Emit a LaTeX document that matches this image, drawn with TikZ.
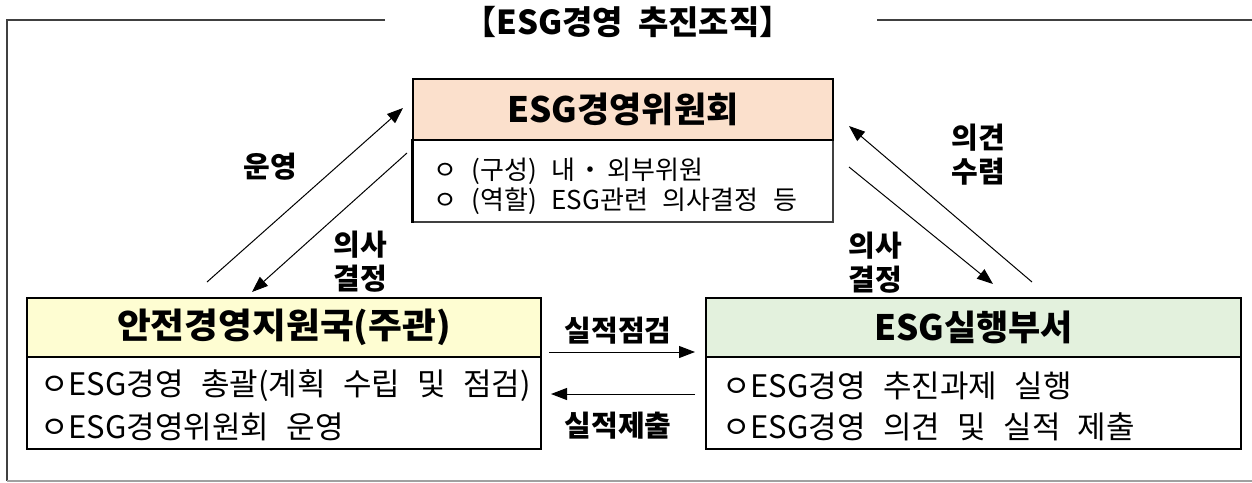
\documentclass[tikz,border=0pt]{standalone}
\usepackage{fontspec}
\setmainfont{Noto Sans CJK KR}
\newfontfamily\krw[WordSpace={3}]{Noto Sans CJK KR}
\newfontfamily\krv[WordSpace={2.5}]{Noto Sans CJK KR}
\usetikzlibrary{arrows.meta}
\definecolor{peach}{HTML}{FBE0CC}
\definecolor{lyellow}{HTML}{FEFDD2}
\definecolor{lgreen}{HTML}{E3F1DD}
\definecolor{framegray}{HTML}{404040}
\definecolor{botgray}{HTML}{A0A0A0}
\begin{document}
\begin{tikzpicture}[x=1pt,y=-1pt,
  hdrbox/.style={draw=black, line width=2.6pt, inner sep=0pt, font=\fontsize{35}{38}\selectfont\bfseries},
  bodybox/.style={draw=black, line width=2.6pt, inner sep=0pt},
  topbody/.style={inner sep=0pt, anchor=west, font=\krw\fontsize{26}{30}\selectfont},
  lowbody/.style={inner sep=0pt, anchor=west, font=\krv\fontsize{31}{34}\selectfont},
  lbl/.style={inner sep=0pt, align=center, font=\fontsize{29}{34}\selectfont\bfseries},
  conn/.style={line width=1pt, -{Triangle[length=16pt,width=12pt]}}
]
\useasboundingbox (0,0) rectangle (1252,482);
% outer frame
\coordinate (f1) at (385,20);
\coordinate (f2) at (7,20);
\coordinate (f3) at (7,481);
\coordinate (f4) at (1252,481);
\coordinate (f5) at (877,20);
\coordinate (f6) at (1252,20);
\draw[framegray, line width=2.2pt] (f1) -- (f2) -- (f3);
\draw[botgray, line width=1.5pt] (f3) -- (f4);
\draw[framegray, line width=2.2pt] (f5) -- (f6);
\node[inner sep=0pt, font=\fontsize{33}{36}\selectfont\bfseries] (title) at (628,22) {【ESG경영\ \ 추진조직】};

% top box
\node[draw=framegray, line width=1.2pt, minimum width=420pt, minimum height=82pt, inner sep=0pt] (topB) at (623,181) {};
\draw[black, line width=2.6pt] (topB.north west) -- (topB.south west);
\node[hdrbox, fill=peach, minimum width=420pt, minimum height=61pt] (topH) at (623,109.5) {ESG경영위원회};
\node[topbody] (t1) at (433,171) {ㅇ (구성) 내\hspace{2pt}・\hspace{4pt}외부위원};
\node[topbody] (t2) at (433,201) {ㅇ (역할) ESG관련 의사결정 등};

% left box
\node[bodybox, minimum width=514pt, minimum height=92pt] (leftB) at (284,403) {};
\node[hdrbox, fill=lyellow, minimum width=514pt, minimum height=59pt] (leftH) at (284,327.5) {\scalebox{1.05}[1]{안전경영지원국(주관)}};
\node[lowbody] (l1) at (40,386) {ㅇESG경영 총괄(계획 수립 및 점검)};
\node[lowbody] (l2) at (40,427) {ㅇESG경영위원회 운영};

% right box
\node[bodybox, minimum width=535pt, minimum height=92pt] (rightB) at (973.5,403) {};
\node[hdrbox, fill=lgreen, minimum width=535pt, minimum height=59pt] (rightH) at (973.5,327.5) {ESG실행부서};
\node[lowbody] (r1) at (722,386) {ㅇESG경영 추진과제 실행};
\node[lowbody] (r2) at (722,427) {ㅇESG경영 의견 및 실적 제출};

% arrow end points
\coordinate (a1s) at (207,282);
\coordinate (a1e) at (403,108);
\coordinate (a2s) at (407,153);
\coordinate (a2e) at (252,292);
\coordinate (a3s) at (1032,282);
\coordinate (a3e) at (849,126);
\coordinate (a4s) at (849,167);
\coordinate (a4e) at (993,284);
\coordinate (a5s) at (549,352);
\coordinate (a5e) at (695,352);
\coordinate (a6s) at (695,394);
\coordinate (a6e) at (551,394);
\draw[conn] (a1s) -- (a1e);
\draw[conn] (a2s) -- (a2e);
\draw[conn] (a3s) -- (a3e);
\draw[conn] (a4s) -- (a4e);
\draw[conn] (a5s) -- (a5e);
\draw[conn] (a6s) -- (a6e);

% labels
\node[lbl] (lab1) at (270,167) {운영};
\node[lbl] (lab2) at (360,262) {의사\\결정};
\node[lbl] (lab3) at (978,155) {의견\\수렴};
\node[lbl] (lab4) at (875,263) {의사\\결정};
\node[lbl] (lab5) at (618,331) {실적점검};
\node[lbl] (lab6) at (618,426) {실적제출};
\end{tikzpicture}
\end{document}
